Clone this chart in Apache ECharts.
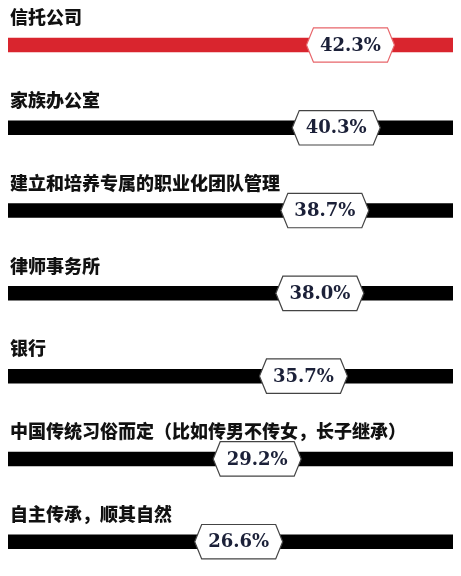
<!DOCTYPE html>
<html>
<head>
<meta charset="utf-8">
<script src="https://cdn.jsdelivr.net/npm/echarts@6/dist/echarts.min.js"></script>
<style>
  html, body { margin: 0; padding: 0; background: #fff; }
  #chart { width: 461px; height: 576px; }
</style>
</head>
<body>
<div id="chart"></div>
<script>
const categories = [
  '信托公司',
  '家族办公室',
  '建立和培养专属的职业化团队管理',
  '律师事务所',
  '银行',
  '中国传统习俗而定（比如传男不传女，长子继承）',
  '自主传承，顺其自然'
];
const values = [42.3, 40.3, 38.7, 38.0, 35.7, 29.2, 26.6];
const valueLabels = ['42.3%', '40.3%', '38.7%', '38.0%', '35.7%', '29.2%', '26.6%'];

const chart = echarts.init(document.getElementById('chart'), null, { renderer: 'canvas' });

function renderItem(params, api) {
  const idx = params.dataIndex;
  const pt = api.coord([api.value(0), idx]);
  const cs = params.coordSys;
  const cx = pt[0], cy = pt[1];
  const barH = 14.5;
  const hw = 44, inset = 7, hh = 17.2;
  const first = idx === 0;
  return {
    type: 'group',
    children: [
      {
        type: 'rect',
        shape: { x: cs.x, y: cy - barH / 2, width: cs.width, height: barH },
        style: { fill: first ? '#d9252e' : '#000000' }
      },
      {
        type: 'polygon',
        shape: {
          points: [
            [cx - hw, cy], [cx - hw + inset, cy - hh], [cx + hw - inset, cy - hh],
            [cx + hw, cy], [cx + hw - inset, cy + hh], [cx - hw + inset, cy + hh]
          ]
        },
        style: { fill: '#ffffff', stroke: first ? '#e8666b' : '#444444', lineWidth: 1.2 }
      },
      {
        type: 'text',
        style: {
          text: valueLabels[idx],
          x: cx, y: cy + 1,
          align: 'center', verticalAlign: 'middle',
          fontFamily: 'DejaVu Serif', fontWeight: 'bold', fontSize: 18,
          fill: '#1b2038'
        }
      },
      {
        type: 'text',
        style: {
          text: categories[idx],
          x: cs.x + 2, y: cy - 27.5,
          align: 'left', verticalAlign: 'middle',
          fontFamily: 'Noto Sans CJK SC', fontWeight: 900, fontSize: 18,
          fill: '#111111'
        }
      }
    ]
  };
}

chart.setOption({
  backgroundColor: '#ffffff',
  animation: false,
  grid: { left: 8, right: 8, top: 45, bottom: 34.3 },
  xAxis: { type: 'value', min: -5.8, max: 56.7, show: false },
  yAxis: { type: 'category', data: categories, inverse: true, boundaryGap: false, show: false },
  series: [{
    type: 'custom',
    renderItem: renderItem,
    clip: false,
    data: values.map((v, i) => [v, i])
  }]
});
</script>
</body>
</html>
